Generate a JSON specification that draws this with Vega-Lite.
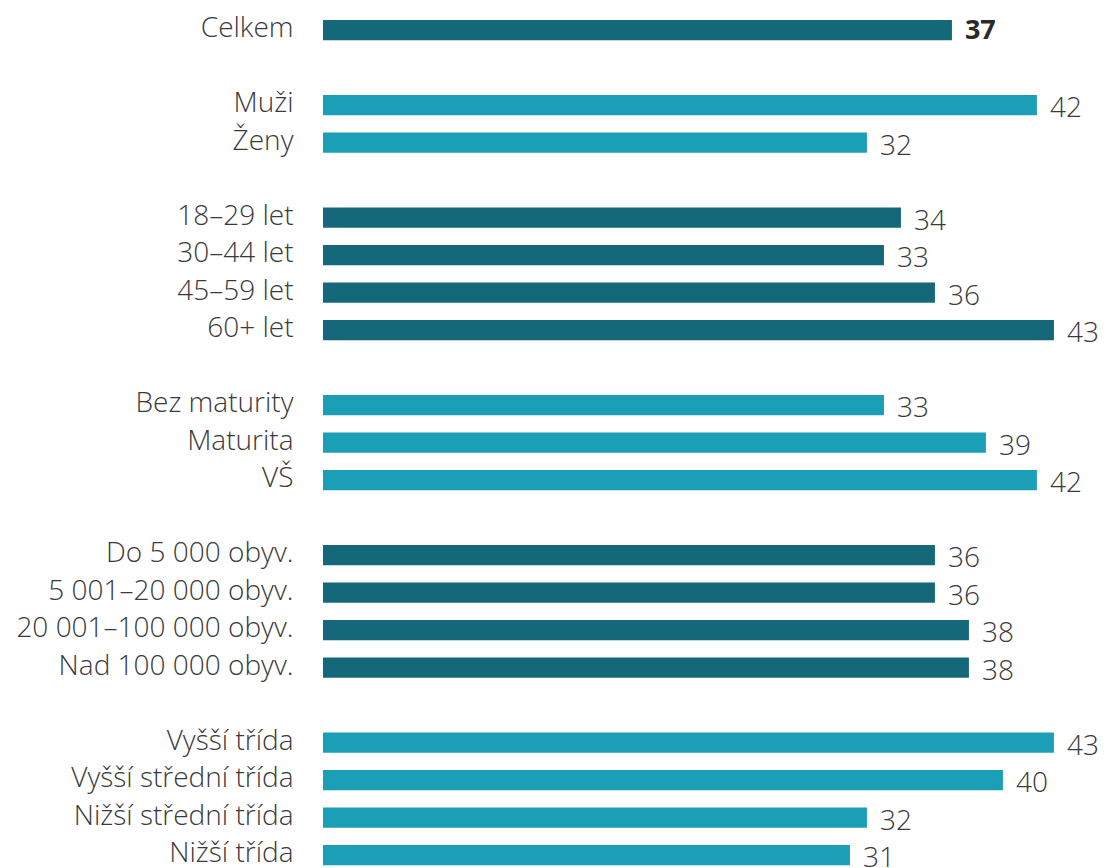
{
  "$schema": "https://vega.github.io/schema/vega-lite/v6.json",
  "autosize": "none",
  "width": 786,
  "height": 862.5,
  "padding": {"left": 323, "top": 11.25, "right": 0, "bottom": 0},
  "background": "white",
  "config": {"view": {"stroke": null}, "font": "Open Sans"},
  "data": {"values": [
    {"cat": "Celkem", "value": 37, "shade": "dark"},
    {"cat": "Muži", "value": 42, "shade": "light"},
    {"cat": "Ženy", "value": 32, "shade": "light"},
    {"cat": "18–29 let", "value": 34, "shade": "dark"},
    {"cat": "30–44 let", "value": 33, "shade": "dark"},
    {"cat": "45–59 let", "value": 36, "shade": "dark"},
    {"cat": "60+ let", "value": 43, "shade": "dark"},
    {"cat": "Bez maturity", "value": 33, "shade": "light"},
    {"cat": "Maturita", "value": 39, "shade": "light"},
    {"cat": "VŠ", "value": 42, "shade": "light"},
    {"cat": "Do 5 000 obyv.", "value": 36, "shade": "dark"},
    {"cat": "5 001–20 000 obyv.", "value": 36, "shade": "dark"},
    {"cat": "20 001–100 000 obyv.", "value": 38, "shade": "dark"},
    {"cat": "Nad 100 000 obyv.", "value": 38, "shade": "dark"},
    {"cat": "Vyšší třída", "value": 43, "shade": "light"},
    {"cat": "Vyšší střední třída", "value": 40, "shade": "light"},
    {"cat": "Nižší střední třída", "value": 32, "shade": "light"},
    {"cat": "Nižší třída", "value": 31, "shade": "light"}
  ]},
  "encoding": {
    "y": {
      "field": "cat",
      "type": "nominal",
      "scale": {
        "domain": ["Celkem", "_gap1", "Muži", "Ženy", "_gap2", "18–29 let", "30–44 let", "45–59 let", "60+ let", "_gap3", "Bez maturity", "Maturita", "VŠ", "_gap4", "Do 5 000 obyv.", "5 001–20 000 obyv.", "20 001–100 000 obyv.", "Nad 100 000 obyv.", "_gap5", "Vyšší třída", "Vyšší střední třída", "Nižší střední třída", "Nižší třída"],
        "paddingInner": 0.46,
        "paddingOuter": 0.23
      },
      "axis": {
        "title": null,
        "domain": false,
        "ticks": false,
        "labelPadding": 30,
        "labelFontSize": 28,
        "labelFontWeight": 300,
        "labelLimit": 400,
        "labelColor": "#3a3a3a",
        "labelFont": "Open Sans",
        "labelOffset": -1,
        "labelExpr": "indexof(datum.label, '_gap') == 0 ? '' : datum.label"
      }
    },
    "x": {
      "field": "value",
      "type": "quantitative",
      "scale": {"domain": [0, 46.24], "nice": false, "zero": true},
      "axis": null
    }
  },
  "layer": [
    {
      "mark": {"type": "bar"},
      "encoding": {
        "color": {
          "field": "shade",
          "type": "nominal",
          "scale": {"domain": ["dark", "light"], "range": ["#14687a", "#1a9fb6"]},
          "legend": null
        }
      }
    },
    {
      "transform": [{"filter": "datum.cat != 'Celkem'"}],
      "mark": {"type": "text", "align": "left", "baseline": "middle", "dx": 13, "dy": 4, "fontSize": 28, "fontWeight": 300, "color": "#3a3a3a", "font": "Open Sans"},
      "encoding": {"text": {"field": "value", "type": "quantitative"}}
    },
    {
      "transform": [{"filter": "datum.cat == 'Celkem'"}],
      "mark": {"type": "text", "align": "left", "baseline": "middle", "dx": 13, "dy": 1, "fontSize": 27, "fontWeight": "bold", "color": "#2a2a2a", "font": "Open Sans"},
      "encoding": {"text": {"field": "value", "type": "quantitative"}}
    }
  ]
}
